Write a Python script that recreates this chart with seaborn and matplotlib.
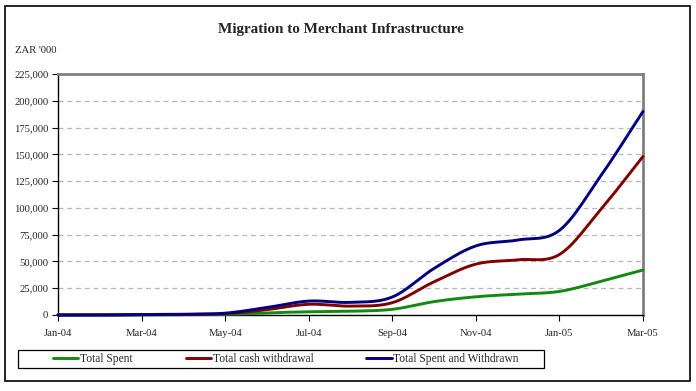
import numpy as np
import pandas as pd
import matplotlib
matplotlib.use('Agg')
import matplotlib.pyplot as plt
from matplotlib.patches import Rectangle
from matplotlib.ticker import FuncFormatter, MultipleLocator
import seaborn as sns

# Monthly values, ZAR '000
months = ['Jan-04', 'Feb-04', 'Mar-04', 'Apr-04', 'May-04', 'Jun-04', 'Jul-04',
          'Aug-04', 'Sep-04', 'Oct-04', 'Nov-04', 'Dec-04', 'Jan-05', 'Feb-05', 'Mar-05']
total_spent = [0, 0, 200, 300, 500, 2000, 3000, 3500, 5300, 12500, 17000, 19500, 22000, 31500, 42000]
cash_withdrawal = [0, 0, 300, 400, 1200, 5000, 10000, 8300, 11500, 31000, 47500, 51500, 56500, 99000, 148000]
spent_and_withdrawn = [0, 0, 500, 700, 1700, 7000, 13000, 11800, 16800, 43500, 64500, 70000, 79000, 130500, 190000]

series_names = ['Total Spent', 'Total cash withdrawal', 'Total Spent and Withdrawn']
series_values = [total_spent, cash_withdrawal, spent_and_withdrawn]
colors = ['#118a11', '#800000', '#000080']


def smooth(xs, ys, steps=24):
    """Catmull-Rom style smoothing, similar to the 'smoothed line' look."""
    xs = np.asarray(xs, float)
    ys = np.asarray(ys, float)
    n = len(xs)
    mx = np.gradient(xs)
    my = np.gradient(ys)
    out_x, out_y = [], []
    for i in range(n - 1):
        t = np.linspace(0, 1, steps, endpoint=(i == n - 2))
        h00 = 2 * t**3 - 3 * t**2 + 1
        h10 = t**3 - 2 * t**2 + t
        h01 = -2 * t**3 + 3 * t**2
        h11 = t**3 - t**2
        out_x.extend(h00 * xs[i] + h10 * mx[i] + h01 * xs[i + 1] + h11 * mx[i + 1])
        out_y.extend(h00 * ys[i] + h10 * my[i] + h01 * ys[i + 1] + h11 * my[i + 1])
    return np.array(out_x), np.array(out_y)


sns.set_theme(style='white')
plt.rcParams['font.family'] = ['Liberation Serif', 'DejaVu Serif']

W, H = 696, 391
fig = plt.figure(figsize=(W / 100, H / 100), dpi=100)
ax = fig.add_axes([58 / W, 1 - 315 / H, (643 - 58) / W, (315 - 74) / H])

x_idx = np.arange(len(months))
for name, vals, col in zip(series_names, series_values, colors):
    sx, sy = smooth(x_idx, vals)
    df = pd.DataFrame({'x': sx, 'y': sy})
    sns.lineplot(data=df, x='x', y='y', ax=ax, color=col, lw=2.1, sort=False,
                 label=name, clip_on=False, zorder=3)

ax.set_xlim(0, len(months) - 1)
ax.set_ylim(0, 225000)
ax.set_xticks(x_idx[::2])
ax.set_xticklabels(months[::2])
ax.yaxis.set_major_locator(MultipleLocator(25000))
ax.yaxis.set_major_formatter(FuncFormatter(lambda v, p: f'{int(v):,}'))
ax.set_xlabel('')
ax.set_ylabel('')
ax.tick_params(axis='both', direction='out', length=4, width=0.8, color='black',
               labelsize=7.7, pad=3, left=True, bottom=True)
ax.tick_params(axis='x', pad=6)

ax.yaxis.grid(True, color='#b8b8b8', linestyle=(0, (4, 3)), lw=0.9)
ax.set_axisbelow(True)
for s in ['left', 'bottom']:
    ax.spines[s].set_color('black')
    ax.spines[s].set_linewidth(1.0)
for s in ['top', 'right']:
    ax.spines[s].set_color('#808080')
    ax.spines[s].set_linewidth(2.0)

ax.get_legend().remove()
handles, labels = ax.get_legend_handles_labels()
fig.legend(handles, labels, loc='center left', bbox_to_anchor=(47 / W, 1 - 359 / H),
           ncol=3, frameon=False, fontsize=8.3, borderpad=0, handlelength=2.2,
           handletextpad=0.15, columnspacing=4.6)
fig.add_artist(Rectangle((18 / W, 1 - 368 / H), (544 - 18) / W, (368 - 350) / H,
                         transform=fig.transFigure, fill=False, ec='black', lw=0.9))

# outer chart border
fig.add_artist(Rectangle((4.5 / W, 1 - 381 / H), (690 - 4.5) / W, (381 - 6) / H,
                         transform=fig.transFigure, fill=False, ec='black', lw=1.2))

fig.text(340.5 / W, 1 - 30 / H, 'Migration to Merchant Infrastructure',
         ha='center', va='center', fontsize=10.9, fontweight='bold')
fig.text(15 / W, 1 - 50.5 / H, "ZAR '000", ha='left', va='center', fontsize=7.7)

fig.savefig('out.png', dpi=100, facecolor='white')
